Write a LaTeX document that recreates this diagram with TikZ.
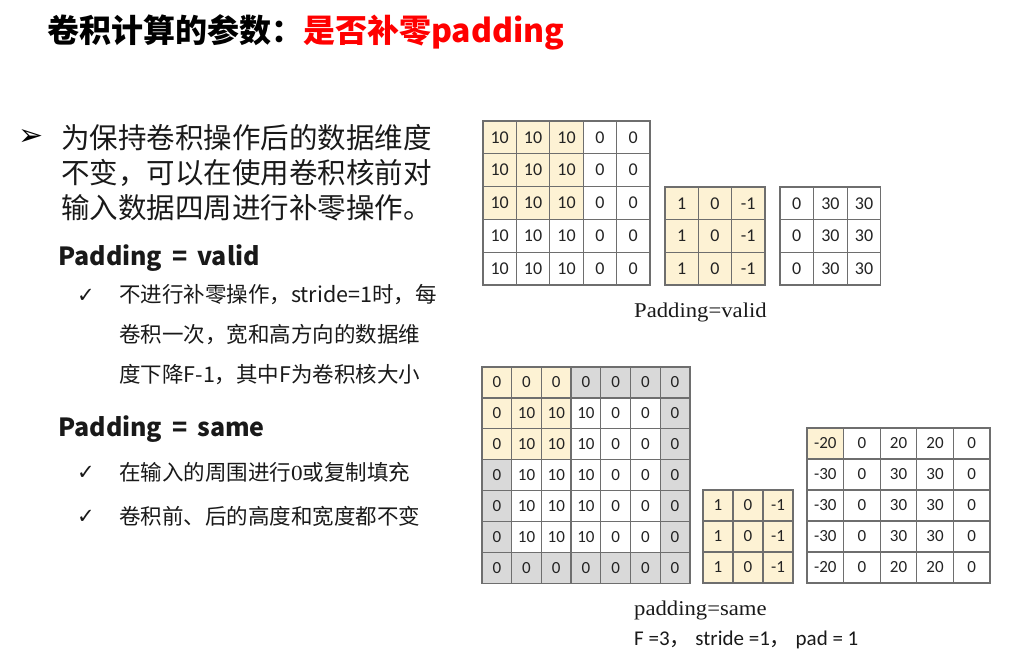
\documentclass[tikz,border=0pt]{standalone}
\usepackage{fontspec}
\usepackage{tikz}
\usetikzlibrary{positioning}
\newfontfamily\cjkfont{Noto Sans CJK SC}
\newfontfamily\calfont{Carlito}
\newfontfamily\symfont{DejaVu Sans}
\newfontfamily\capfont[FakeStretch=1.08]{Liberation Serif}
\definecolor{cellyellow}{RGB}{253,242,212}
\definecolor{padgray}{RGB}{217,217,217}
\definecolor{gridline}{RGB}{110,110,110}
\definecolor{numtext}{RGB}{35,35,35}
\definecolor{bodytext}{RGB}{25,25,25}
\definecolor{titlered}{RGB}{255,0,0}

\tikzset{
  cell/.style={draw=gridline, line width=1.3pt, inner sep=0pt, text=numtext,
    font=\calfont\fontsize{18}{18}\selectfont},
  bigcell/.style={minimum width=33.4pt, minimum height=32.8pt},
  smallcell/.style={minimum width=29.7pt, minimum height=30.9pt,
    font=\calfont\fontsize{17}{17}\selectfont},
  body/.style={anchor=base west, inner sep=0pt, text=bodytext},
  tick/.style={inner sep=0pt, text=bodytext, font=\symfont\fontsize{21}{21}\selectfont},
  caption/.style={anchor=base west, inner sep=0pt, text=bodytext}
}

\begin{document}
\begin{tikzpicture}[x=1pt, y=-1pt]
  \useasboundingbox (0,0) rectangle (1013,656);

  % title
  \node[anchor=base west, inner sep=0pt] (title) at (47,42)
    {\cjkfont\bfseries\fontsize{32}{36}\selectfont 卷积计算的参数：\textcolor{titlered}{是否补零padding}};

  % left column text
  \node[inner sep=0pt, text=black, font=\symfont\fontsize{30}{30}\selectfont] (arrow) at (31,137) {➢};
  \node[body, font=\cjkfont\fontsize{28.5}{34}\selectfont] (introa) at (61,148.5) {为保持卷积操作后的数据维度};
  \node[body, font=\cjkfont\fontsize{28.5}{34}\selectfont] (introb) at (61,183.5) {不变，可以在使用卷积核前对};
  \node[body, font=\cjkfont\fontsize{28.5}{34}\selectfont] (introc) at (61,218.5) {输入数据四周进行补零操作。};

  \node[body, font=\cjkfont\bfseries\fontsize{25}{28}\selectfont] (validhead) at (58,265) {Padding \,=\, valid};
  \node[tick] (ticka) at (86,296) {✓};
  \node[body, font=\cjkfont\fontsize{21.5}{26}\selectfont] (valida) at (119,302.5) {不进行补零操作，stride=1时，每};
  \node[body, font=\cjkfont\fontsize{21.5}{26}\selectfont] (validb) at (119,342.5) {卷积一次，宽和高方向的数据维};
  \node[body, font=\cjkfont\fontsize{21.5}{26}\selectfont] (validc) at (119,382.5) {度下降F-1，其中F为卷积核大小};

  \node[body, font=\cjkfont\bfseries\fontsize{25}{28}\selectfont] (samehead) at (58,436) {Padding \,=\, same};
  \node[tick] (tickb) at (86,473) {✓};
  \node[body, font=\cjkfont\fontsize{21.5}{26}\selectfont] (samea) at (119,480.5) {在输入的周围进行{\capfont 0}或复制填充};
  \node[tick] (tickc) at (86,517) {✓};
  \node[body, font=\cjkfont\fontsize{21.5}{26}\selectfont] (sameb) at (119,524.5) {卷积前、后的高度和宽度都不变};

  % valid: input
  \foreach \rowvals [count=\rw] in {{10,10,10,0,0},{10,10,10,0,0},{10,10,10,0,0},{10,10,10,0,0},{10,10,10,0,0}} {
    \foreach \val [count=\cl] in \rowvals {
      \ifnum\rw<4 \ifnum\cl<4 \def\cf{cellyellow}\else\def\cf{white}\fi \else\def\cf{white}\fi
      \node[cell, bigcell, fill=\cf] (vin-\rw-\cl) at ({483+33.4*(\cl-0.5)},{121+32.8*(\rw-0.5)}) {\val};
    }
  }
  % valid: kernel
  \foreach \rw in {1,2,3} {
    \foreach \val [count=\cl] in {1,0,-1} {
      \node[cell, minimum width=33.3pt, minimum height=32.7pt, fill=cellyellow] (vker-\rw-\cl) at ({665+33.3*(\cl-0.5)},{187+32.7*(\rw-0.5)}) {\val};
    }
  }
  % valid: output
  \foreach \rw in {1,2,3} {
    \foreach \val [count=\cl] in {0,30,30} {
      \node[cell, minimum width=33.6pt, minimum height=32.7pt, fill=white] (vout-\rw-\cl) at ({780+33.6*(\cl-0.5)},{187+32.7*(\rw-0.5)}) {\val};
    }
  }
  \node[caption, font=\capfont\fontsize{21}{24}\selectfont] (validcap) at (634,317) {Padding=valid};

  % same: padded input
  \foreach \rowvals [count=\rw] in {{0,0,0,0,0,0,0},{0,10,10,10,0,0,0},{0,10,10,10,0,0,0},{0,10,10,10,0,0,0},{0,10,10,10,0,0,0},{0,10,10,10,0,0,0},{0,0,0,0,0,0,0}} {
    \foreach \val [count=\cl] in \rowvals {
      \def\cf{white}
      \ifnum\rw=1 \def\cf{padgray}\fi
      \ifnum\rw=7 \def\cf{padgray}\fi
      \ifnum\cl=1 \def\cf{padgray}\fi
      \ifnum\cl=7 \def\cf{padgray}\fi
      \ifnum\rw<4 \ifnum\cl<4 \def\cf{cellyellow}\fi\fi
      \node[cell, smallcell, fill=\cf] (sin-\rw-\cl) at ({482+29.7*(\cl-0.5)},{367+30.9*(\rw-0.5)}) {\val};
    }
  }
  % same: kernel
  \foreach \rw in {1,2,3} {
    \foreach \val [count=\cl] in {1,0,-1} {
      \node[cell, smallcell, minimum width=30pt, minimum height=31pt, fill=cellyellow] (sker-\rw-\cl) at ({703+30*(\cl-0.5)},{490+31*(\rw-0.5)}) {\val};
    }
  }
  % same: output
  \foreach \rowvals [count=\rw] in {{-20,0,20,20,0},{-30,0,30,30,0},{-30,0,30,30,0},{-30,0,30,30,0},{-20,0,20,20,0}} {
    \foreach \val [count=\cl] in \rowvals {
      \def\cf{white}
      \ifnum\rw=1 \ifnum\cl=1 \def\cf{cellyellow}\fi\fi
      \node[cell, smallcell, minimum width=36.6pt, minimum height=31pt, fill=\cf] (sout-\rw-\cl) at ({807+36.6*(\cl-0.5)},{428+31*(\rw-0.5)}) {\val};
    }
  }
  \node[caption, font=\capfont\fontsize{21}{24}\selectfont] (samecap) at (634,615) {padding=same};
  \node[caption, font=\calfont\fontsize{21}{24}\selectfont] (sameparams) at (634,645)
    {F =3{\cjkfont ，} stride =1{\cjkfont ，} pad = 1};
\end{tikzpicture}
\end{document}
